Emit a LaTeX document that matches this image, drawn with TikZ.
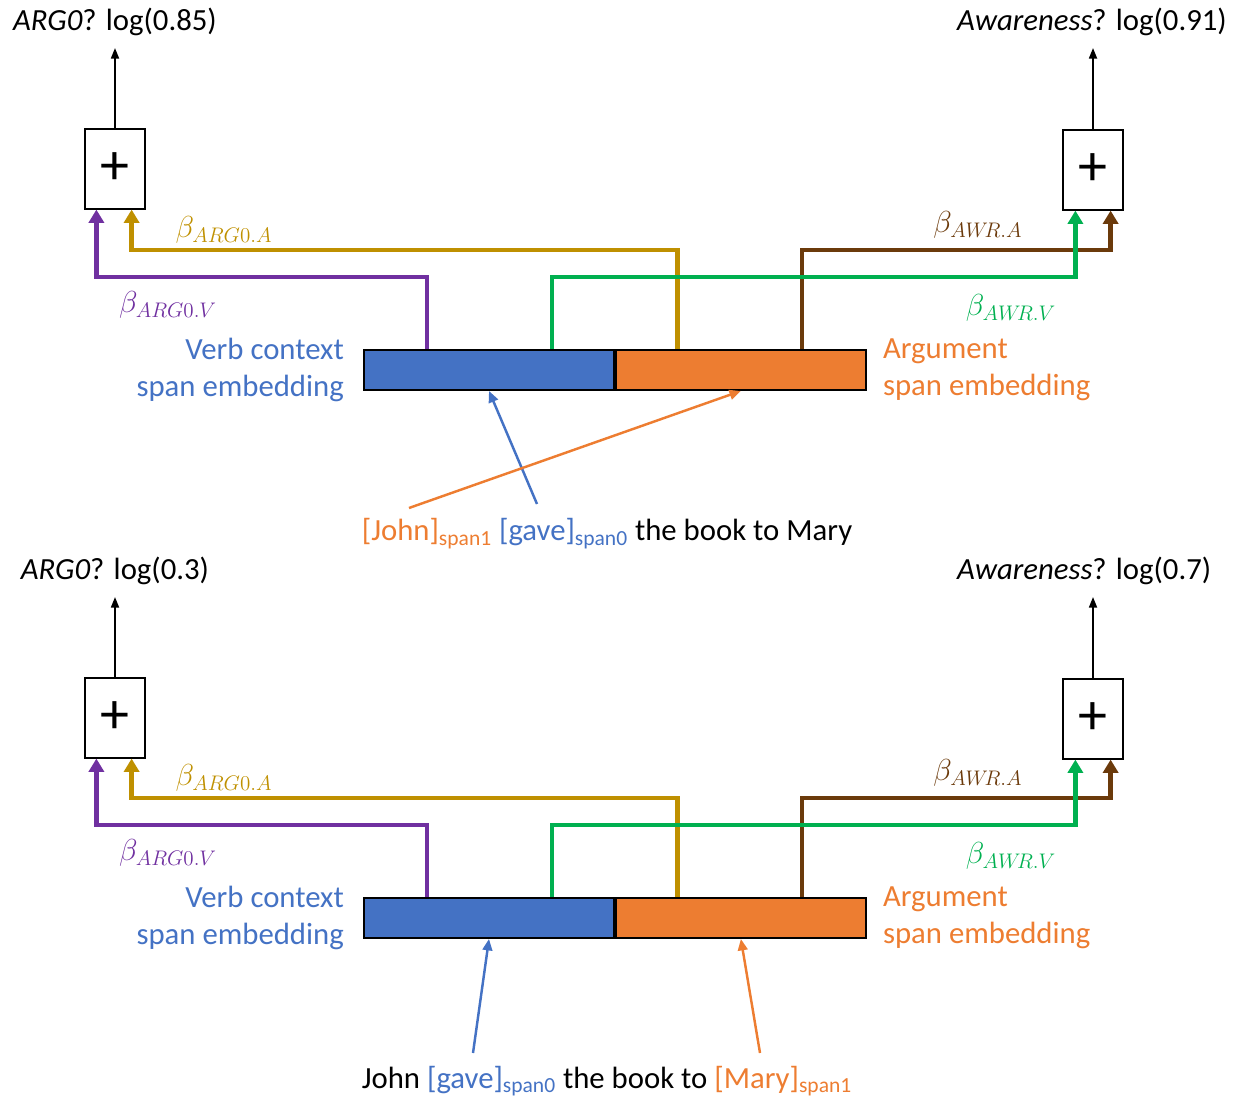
\documentclass[tikz,border=0pt]{standalone}
\usepackage[no-math]{fontspec}
\setmainfont{Carlito}
\usetikzlibrary{arrows.meta,positioning}

\definecolor{vblue}{HTML}{4472C4}
\definecolor{aorange}{HTML}{ED7D31}
\definecolor{vpurple}{HTML}{7030A0}
\definecolor{agold}{HTML}{BF9000}
\definecolor{wgreen}{HTML}{00B050}
\definecolor{wbrown}{HTML}{6B3A0B}

\tikzset{
  sumbox/.style = {draw, line width=0.7pt, minimum width=1.2cm, minimum height=1.6cm, inner sep=0pt, font=\fontsize{33}{33}\selectfont},
  spanbox/.style = {draw, line width=1.1pt, minimum width=5cm, minimum height=0.8cm, inner sep=0pt},
  weight/.style = {font=\fontsize{18.5}{19}\selectfont},
  feed/.style = {line width=2.6pt, -{Triangle[length=7.5pt, width=8.5pt]}},
  scorearrow/.style = {line width=1.1pt, -{Triangle[length=6pt, width=4.5pt]}},
  spanarrow/.style = {line width=1.4pt, -{Triangle[length=6.5pt, width=5.5pt]}},
}

\begin{document}
\begin{tikzpicture}[x=0.02cm, y=0.02cm, font=\fontsize{17.5}{21}\selectfont]
  \useasboundingbox (0,0) rectangle (1237,1099);

  % upper example: [John] [gave] the book to Mary
  \node[sumbox] (sum1L) at (115,930) {+};
  \node[sumbox] (sum1R) at (1093,929) {+};
  \coordinate (score1L) at (115,1051);
  \coordinate (score1R) at (1093,1051);
  \draw[scorearrow] (sum1L.north) -- (score1L);
  \draw[scorearrow] (sum1R.north) -- (score1R);
  \node (prob1L) at (115,1077) {\textit{ARG0}? log(0.85)};
  \node[anchor=west] (prob1R) at (951,1077) {\textit{Awareness}? log(0.91)};

  \node[spanbox, fill=vblue] (verb1) at (489,729) {};
  \node[spanbox, fill=aorange, right=0pt of verb1] (arg1) {};
  \node[left=0.26cm of verb1, align=right, text=vblue] (verbtxt1) {Verb context\\span embedding};
  \node[right=0.2cm of arg1, align=left, text=aorange] (argtxt1) {Argument\\span embedding};

  \draw[feed, vpurple] ([xshift=1.28cm]verb1.north west) -- ++(0,72) -| ([xshift=0.24cm]sum1L.south west);
  \draw[feed, agold] ([xshift=1.25cm]arg1.north west) -- ++(0,99) -| ([xshift=-0.28cm]sum1L.south east);
  \draw[feed, wbrown] ([xshift=3.74cm]arg1.north west) -- ++(0,99) -| ([xshift=-0.26cm]sum1R.south east);
  \draw[feed, wgreen] ([xshift=3.78cm]verb1.north west) -- ++(0,72) -| ([xshift=0.26cm]sum1R.south west);

  \node[weight, text=agold] (b1AA) at (224,869) {$\beta_{ARG0.A}$};
  \node[weight, text=vpurple] (b1AV) at (168,794) {$\beta_{ARG0.V}$};
  \node[weight, text=wbrown] (b1WA) at (978,874) {$\beta_{AW\!R.A}$};
  \node[weight, text=wgreen] (b1WV) at (1011,791) {$\beta_{AW\!R.V}$};

  \node[anchor=base] (sent1) at (607,558) {\textcolor{aorange}{[John]\textsubscript{span1}} \textcolor{vblue}{[gave]\textsubscript{span0}} the book to Mary};
  \coordinate (john1) at (409,591);
  \coordinate (gave1) at (537,595);
  \draw[spanarrow, vblue] (gave1) -- (verb1.south);
  \draw[spanarrow, aorange] (john1) -- (arg1.south);

  % lower example: John [gave] the book to [Mary]
  \node[sumbox] (sum2L) at (115,381) {+};
  \node[sumbox] (sum2R) at (1093,380) {+};
  \coordinate (score2L) at (115,502);
  \coordinate (score2R) at (1093,502);
  \draw[scorearrow] (sum2L.north) -- (score2L);
  \draw[scorearrow] (sum2R.north) -- (score2R);
  \node (prob2L) at (115,528) {\textit{ARG0}? log(0.3)};
  \node[anchor=west] (prob2R) at (951,528) {\textit{Awareness}? log(0.7)};

  \node[spanbox, fill=vblue] (verb2) at (489,181) {};
  \node[spanbox, fill=aorange, right=0pt of verb2] (arg2) {};
  \node[left=0.26cm of verb2, align=right, text=vblue] (verbtxt2) {Verb context\\span embedding};
  \node[right=0.2cm of arg2, align=left, text=aorange] (argtxt2) {Argument\\span embedding};

  \draw[feed, vpurple] ([xshift=1.28cm]verb2.north west) -- ++(0,72) -| ([xshift=0.24cm]sum2L.south west);
  \draw[feed, agold] ([xshift=1.25cm]arg2.north west) -- ++(0,99) -| ([xshift=-0.28cm]sum2L.south east);
  \draw[feed, wbrown] ([xshift=3.74cm]arg2.north west) -- ++(0,99) -| ([xshift=-0.26cm]sum2R.south east);
  \draw[feed, wgreen] ([xshift=3.78cm]verb2.north west) -- ++(0,72) -| ([xshift=0.26cm]sum2R.south west);

  \node[weight, text=agold] (b2AA) at (224,321) {$\beta_{ARG0.A}$};
  \node[weight, text=vpurple] (b2AV) at (168,246) {$\beta_{ARG0.V}$};
  \node[weight, text=wbrown] (b2WA) at (978,326) {$\beta_{AW\!R.A}$};
  \node[weight, text=wgreen] (b2WV) at (1011,243) {$\beta_{AW\!R.V}$};

  \node[anchor=base] (sent2) at (607,11) {John \textcolor{vblue}{[gave]\textsubscript{span0}} the book to \textcolor{aorange}{[Mary]\textsubscript{span1}}};
  \coordinate (gave2) at (473,46);
  \coordinate (mary2) at (760,46);
  \draw[spanarrow, vblue] (gave2) -- (verb2.south);
  \draw[spanarrow, aorange] (mary2) -- (arg2.south);
\end{tikzpicture}
\end{document}
